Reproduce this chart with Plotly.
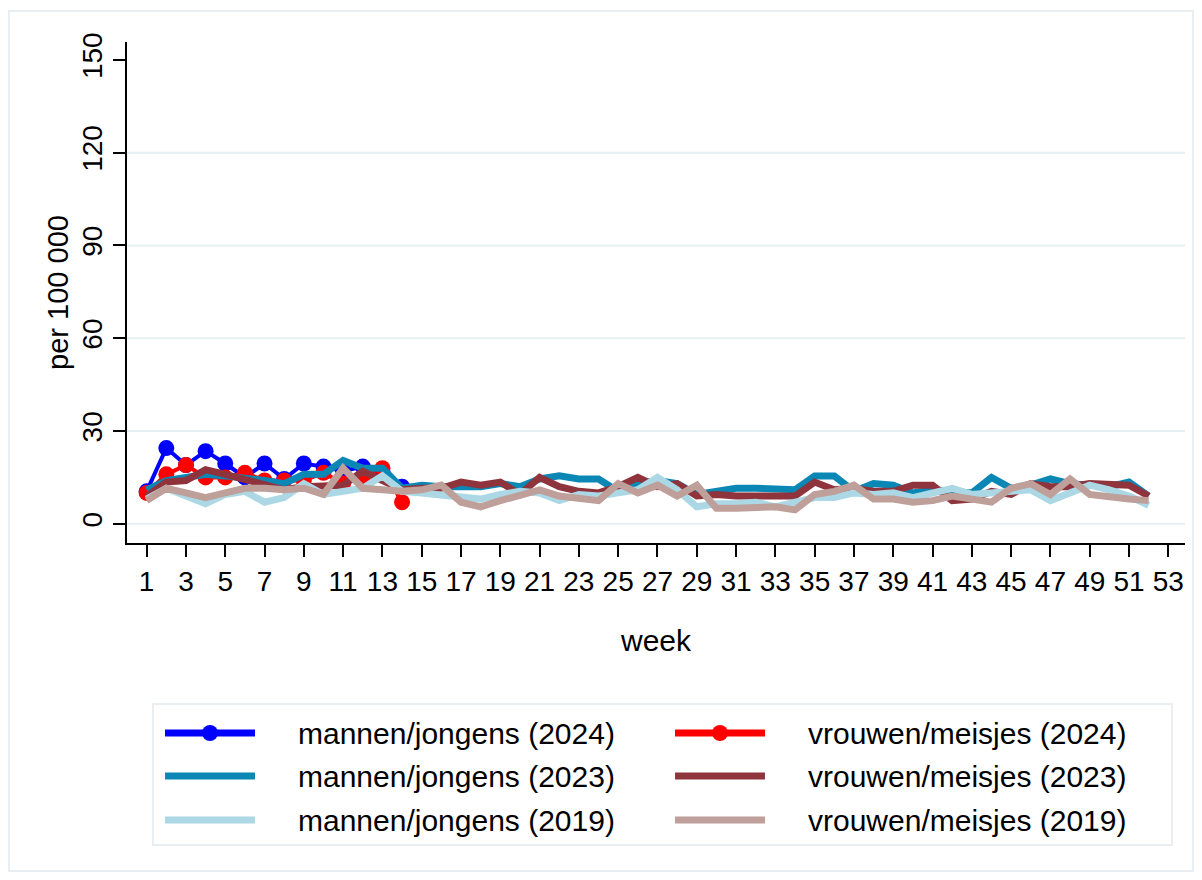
import plotly.graph_objects as go

weeks = list(range(1, 53))
weeks_2024 = list(range(1, 15))

men_2024 = [10.5, 24.5, 19, 23.5, 19.5, 15, 19.5, 14.5, 19.5, 18.5, 17, 18.5, 17, 12]
women_2024 = [10, 16, 19, 15, 15, 16.5, 14, 14, 14, 16.5, 13, 15, 18, 7]

men_2023 = [11, 14, 15, 16, 15.5, 15, 14, 13, 16, 16, 20.5, 18, 18, 11.5, 12.5, 12, 12, 12, 13, 12,
            14.5, 15.5, 14.5, 14.5, 10.5, 13, 14, 13, 9.5, 10.5, 11.5, 11.5, 11, 11, 15.5, 15.5, 10.5, 13, 12.5, 10,
            11, 10.5, 10, 15, 11.5, 12.5, 14.5, 13, 12.5, 12, 13.5, 9]
women_2023 = [9, 13.5, 14, 17.5, 16, 14.5, 12.5, 11, 12, 12.5, 12.5, 17, 14, 11, 11.5, 11.5, 13.5, 12.5, 13.5, 9.5,
              15, 12, 10.5, 10, 12, 15, 12, 13, 9, 9.5, 9, 9, 9, 9, 13.5, 11, 11.5, 10.5, 10.5, 12.5,
              12.5, 7.5, 8, 10.5, 9.5, 13, 12, 12, 13, 12.5, 12.5, 9]
men_2019 = [8, 11.5, 9, 6.5, 9.5, 10.5, 7, 8.5, 13, 9.5, 10.5, 11.5, 15.5, 10.5, 10, 9.5, 9, 8, 9.5, 10.5,
            10, 7.5, 9.5, 9, 10, 11, 15, 11, 5.5, 6.5, 6.5, 7, 5.5, 7, 8.5, 8.5, 10, 9.5, 10, 8.5,
            10, 11.5, 9.5, 10, 10.5, 11, 7.5, 10, 12.5, 11, 9, 6]
women_2019 = [7.5, 11.5, 10, 8.5, 10, 11.5, 11.5, 11, 11.5, 9.5, 18, 11.5, 11, 10.5, 11, 12.5, 7, 5.5, 7.5, 9,
              11, 9, 8, 7.5, 13, 10, 12.5, 9, 12.5, 5, 5, 5.5, 5.5, 4.5, 9.5, 10.5, 12.5, 8, 8, 7,
              7.5, 9, 8, 7, 11.5, 13, 9.5, 14.5, 9.5, 8.5, 8, 7.5]

x_ticks = list(range(1, 54, 2))
y_ticks = [0, 30, 60, 90, 120, 150]
grid_vals = [0, 30, 60, 90, 120]

series = [
    ("mannen/jongens (2024)", weeks_2024, men_2024, "#0000ff", 4, True),
    ("vrouwen/meisjes (2024)", weeks_2024, women_2024, "#ff0000", 4, True),
    ("mannen/jongens (2023)", weeks, men_2023, "#0a87b5", 7, False),
    ("vrouwen/meisjes (2023)", weeks, women_2023, "#8f343c", 7, False),
    ("mannen/jongens (2019)", weeks, men_2019, "#acd8e6", 7, False),
    ("vrouwen/meisjes (2019)", weeks, women_2019, "#bf9f99", 7, False),
]

FONT = "Liberation Sans, Arial, sans-serif"
OFF = 8  # page offset of the figure in the browser
W, H = 1202, 880
L, R, T, B = 119, 25, 34, 345

fig = go.Figure()
for name, xs, ys, col, lw, dots in series:
    fig.add_trace(go.Scatter(
        x=xs, y=ys, name=name,
        mode="lines+markers" if dots else "lines",
        line=dict(color=col, width=lw),
        marker=dict(size=16, color=col),
        showlegend=False,
    ))


def px(x):
    return (x - OFF - L) / (W - L - R)


def py(y):
    return (H - B - (y - OFF)) / (H - T - B)


shapes = []
annotations = []

for g in grid_vals:
    shapes.append(dict(type="line", xref="paper", yref="y", x0=0, x1=1, y0=g, y1=g,
                       line=dict(color="#e6eff2", width=2), layer="below"))

# outer frame
shapes.append(dict(type="rect", xref="paper", yref="paper",
                   x0=px(9), x1=px(1193), y0=py(871), y1=py(11),
                   line=dict(color="#e8eef2", width=2), layer="below"))
# legend box
shapes.append(dict(type="rect", xref="paper", yref="paper",
                   x0=px(153), x1=px(1172), y0=py(845), y1=py(704),
                   line=dict(color="#e8eef2", width=2)))

rows_y = [733, 776, 820]
cols_x = [165, 675]
for i, (name, xs, ys, col, lw, dots) in enumerate(series):
    r, c = i // 2, i % 2
    yy = rows_y[r]
    x0 = cols_x[c]
    shapes.append(dict(type="line", xref="paper", yref="paper",
                       x0=px(x0), x1=px(x0 + 90), y0=py(yy), y1=py(yy),
                       line=dict(color=col, width=7)))
    if dots:
        shapes.append(dict(type="circle", xref="paper", yref="paper",
                           x0=px(x0 + 37), x1=px(x0 + 53), y0=py(yy + 8), y1=py(yy - 8),
                           fillcolor=col, line=dict(color=col, width=0)))
    annotations.append(dict(xref="paper", yref="paper", x=px(x0 + 131), y=py(yy),
                            text=name, showarrow=False, xanchor="left", yanchor="middle",
                            font=dict(size=30, color="black", family=FONT)))

fig.update_layout(
    width=W, height=H,
    margin=dict(l=L, r=R, t=T, b=B),
    paper_bgcolor="white", plot_bgcolor="white",
    font=dict(family=FONT, color="black"),
    showlegend=False,
    shapes=shapes,
    annotations=annotations,
)
fig.update_xaxes(
    range=[0, 53.85], tickvals=x_ticks, ticks="outside", ticklen=12, tickwidth=2,
    tickcolor="black", showline=True, linecolor="black", linewidth=2,
    showgrid=False, zeroline=False, tickfont=dict(size=28),
    title=dict(text="week", font=dict(size=30), standoff=34),
)
fig.update_yaxes(
    range=[-6.2, 155.8], tickvals=y_ticks, ticks="outside", ticklen=12, tickwidth=2,
    tickcolor="black", showline=True, linecolor="black", linewidth=2,
    showgrid=False, zeroline=False,
    tickangle=-90, tickfont=dict(size=28),
    title=dict(text="per 100 000", font=dict(size=29), standoff=0),
)

fig.write_html("out.html")
